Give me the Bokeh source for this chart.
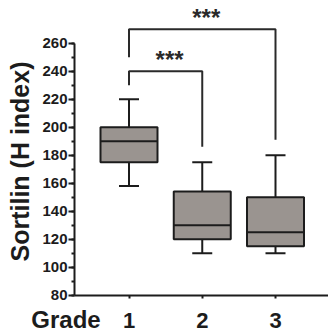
import math
from bokeh.plotting import figure
from bokeh.models import Range1d, SingleIntervalTicker, FixedTicker
from bokeh.core.properties import value
from bokeh.embed import file_html
from bokeh.resources import INLINE

# ---- data ----
grades = ["1", "2", "3"]
xpos = [1, 2, 3]
whisk_low = [158, 110, 110]
q1 = [175, 120, 115]
median = [190, 130, 125]
q3 = [200, 154, 150]
whisk_high = [220, 175, 180]

# significance brackets
br_left = [1, 1]
br_right = [2, 3]
br_y = [240, 270]
br_left_bottom = [230, 250]
br_right_bottom = [186, 191]
br_text = ["***", "***"]

y_axis_start, y_axis_end = 80, 260
y_title = "Sortilin (H index)"
x_title = "Grade"

FONT = "Liberation Sans"
INK = "#1c1c1c"
FILL = "#9a9490"

W, H = 328, 336
PXX = 73.25          # px per grade unit
PXY = 1.4            # px per H-index unit
X0 = 1 - 128.5 / PXX
X1 = X0 + W / PXX
Y0 = 80 - (H - 294.7) / PXY
Y1 = Y0 + H / PXY
TXT_SHIFT = 8        # text baseline correction, px

def dx(px):  # window x pixel -> data x
    return X0 + px / PXX

def dy(py):  # window y pixel -> data y
    return Y0 + (H - py) / PXY

p = figure(width=W, height=H, output_backend="svg", toolbar_location=None,
           x_range=Range1d(X0, X1), y_range=Range1d(Y0, Y1),
           min_border_left=0, min_border_right=0, min_border_top=0,
           min_border_bottom=0)
p.outline_line_color = None
p.grid.visible = False
p.background_fill_color = "white"
p.border_fill_color = "white"

box_w = 57 / PXX
cap_w = 20 / PXX

# whiskers
p.segment(x0=xpos, y0=q3, x1=xpos, y1=whisk_high, line_color=INK, line_width=2)
p.segment(x0=xpos, y0=q1, x1=xpos, y1=whisk_low, line_color=INK, line_width=2)
p.segment(x0=[x - cap_w / 2 for x in xpos], y0=whisk_high,
          x1=[x + cap_w / 2 for x in xpos], y1=whisk_high, line_color=INK, line_width=2)
p.segment(x0=[x - cap_w / 2 for x in xpos], y0=whisk_low,
          x1=[x + cap_w / 2 for x in xpos], y1=whisk_low, line_color=INK, line_width=2)
# boxes
p.vbar(x=xpos, width=box_w, bottom=q1, top=q3, fill_color=FILL,
       line_color=INK, line_width=2)
p.segment(x0=[x - box_w / 2 for x in xpos], y0=median,
          x1=[x + box_w / 2 for x in xpos], y1=median, line_color=INK, line_width=2)

# brackets
for xl, xr, yy, lb, rb in zip(br_left, br_right, br_y, br_left_bottom, br_right_bottom):
    p.line(x=[xl, xl, xr, xr], y=[lb, yy, yy, rb], line_color="#2a2a2a", line_width=2)
p.text(x=[(a + b) / 2 + 4 / PXX for a, b in zip(br_left, br_right)],
       y=[yy + (3.5 + TXT_SHIFT) / PXY for yy in br_y], text=br_text,
       text_font=value(FONT), text_font_style="bold", text_font_size="24px",
       text_color="#2a2a2a", text_align="center", text_baseline="alphabetic")

# axes drawn at fixed data locations inside the frame
ax_x = dx(74)
ya = p.yaxis[0]
ya.fixed_location = ax_x
ya.ticker = SingleIntervalTicker(interval=20, num_minor_ticks=2)
ya.bounds = (y_axis_start, y_axis_end)
ya.axis_line_width = 2
ya.axis_line_color = INK
ya.major_tick_line_color = INK
ya.major_tick_line_width = 2
ya.major_tick_out = 6
ya.major_tick_in = 0
ya.minor_tick_line_color = INK
ya.minor_tick_line_width = 2
ya.minor_tick_out = 3
ya.minor_tick_in = 0
ya.major_label_standoff = 1
ya.major_label_text_font = FONT
ya.major_label_text_font_style = "bold"
ya.major_label_text_font_size = "15px"
ya.major_label_text_color = INK

xa = p.xaxis[0]
xa.fixed_location = y_axis_start
xa.ticker = FixedTicker(ticks=xpos)
xa.major_label_overrides = {x: g for x, g in zip(xpos, grades)}
xa.bounds = (ax_x, X1)
xa.axis_line_width = 2
xa.axis_line_color = INK
xa.major_tick_line_color = INK
xa.major_tick_line_width = 2
xa.major_tick_out = 3
xa.major_tick_in = 0
xa.minor_tick_line_color = None
xa.major_label_standoff = 15
xa.major_label_text_font = FONT
xa.major_label_text_font_style = "bold"
xa.major_label_text_font_size = "22px"
xa.major_label_text_color = INK

# axis titles
p.text(x=[dx(65.5)], y=[dy(327 - TXT_SHIFT)], text=[x_title], text_font=value(FONT),
       text_font_style="bold", text_font_size="24px", text_color=INK,
       text_align="center", text_baseline="alphabetic")
p.text(x=[dx(19)], y=[dy(161)], text=[y_title], angle=math.pi / 2,
       text_font=value(FONT), text_font_style="bold", text_font_size="25px",
       text_color=INK, text_align="center", text_baseline="middle")

open("out.html", "w").write(file_html(p, INLINE))
